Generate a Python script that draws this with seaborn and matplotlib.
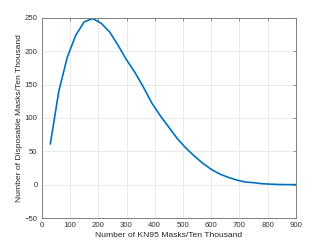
import numpy as np
import pandas as pd
import matplotlib
matplotlib.use('Agg')
import matplotlib.pyplot as plt
import seaborn as sns

# Values
kn95_masks = [30, 60, 90, 120, 150, 180, 210, 240, 270, 300, 330, 360, 390, 420, 450,
              480, 510, 540, 570, 600, 630, 660, 690, 720, 750, 780, 810, 840, 870, 900]
disposable_masks = [61, 140, 191, 224, 244, 249, 242, 229, 209, 187, 168, 146, 122, 103, 86,
                    69, 55, 43, 32, 23, 16, 11, 7, 4, 3, 1.5, 0.8, 0.3, 0.1, 0]
x_ticks = list(range(0, 901, 100))
y_ticks = list(range(-50, 251, 50))

df = pd.DataFrame({'kn95': kn95_masks, 'disposable': disposable_masks})

sns.set_style('white')
plt.rcParams['font.family'] = ['Liberation Sans', 'DejaVu Sans']

fig = plt.figure(figsize=(3.27, 2.45), dpi=100)
ax = fig.add_axes([0.128, 0.110, 0.777, 0.817])

sns.lineplot(data=df, x='kn95', y='disposable', ax=ax, color='#0072BD', linewidth=1.2)

ax.set_xlim(0, 900)
ax.set_ylim(-50, 250)
ax.set_xticks(x_ticks)
ax.set_yticks(y_ticks)
ax.grid(True, color='#e6e6e6', linewidth=0.6)
ax.tick_params(direction='in', length=2.5, width=0.6, colors='#808080',
               labelcolor='#333333', labelsize=5.6, top=True, right=True, pad=3)
for s in ax.spines.values():
    s.set_visible(True)
    s.set_color('#808080')
    s.set_linewidth(0.7)
ax.set_xlabel('Number of KN95 Masks/Ten Thousand', fontsize=6.1, color='#262626', labelpad=2)
ax.set_ylabel('Number of Disposable Masks/Ten Thousand', fontsize=6.1, color='#262626', labelpad=1.5)

fig.savefig('out.png', dpi=100)
